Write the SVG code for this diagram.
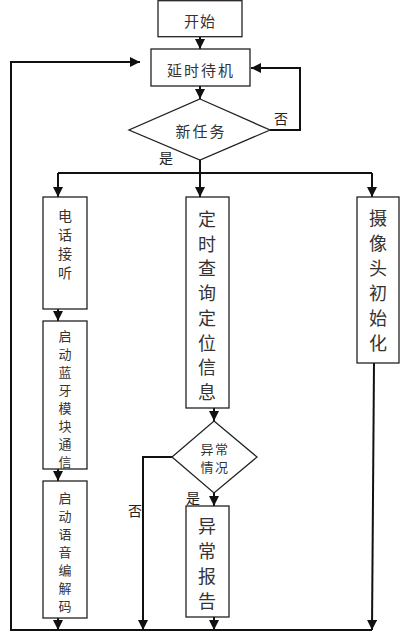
<svg xmlns="http://www.w3.org/2000/svg" width="400" height="632" viewBox="0 0 400 632">
<style>
.box{fill:#fff;stroke:#222;stroke-width:1.3}
.t{font-family:"Noto Sans CJK SC","Noto Sans",sans-serif;fill:#333;text-anchor:middle;dominant-baseline:central}
.s{font-size:14px}
.xs{font-size:13px}
.b{font-size:18px}
.c{fill:none;stroke:#111;stroke-width:2}
.lbl{font-family:"Noto Sans CJK SC","Noto Sans",sans-serif;fill:#222;font-size:14px;text-anchor:middle;dominant-baseline:central}
</style>
<defs>
<marker id="ah" markerUnits="userSpaceOnUse" markerWidth="10" markerHeight="10" viewBox="0 0 10 10" refX="10" refY="5" orient="auto">
<path d="M0,0 L10,5 L0,10 z" fill="#111"/>
</marker>
</defs>
<rect width="400" height="632" fill="#fff"/>
<g id="connectors">
<path class="c" d="M200,37 V49" marker-end="url(#ah)"/>
<path class="c" d="M200,86 V99" marker-end="url(#ah)"/>
<path class="c" d="M270,130 H300 V68 H251" marker-end="url(#ah)"/>
<path class="c" d="M200,160 V197" marker-end="url(#ah)"/>
<path class="c" d="M58,173 H372"/>
<path class="c" d="M58,173 V197" marker-end="url(#ah)"/>
<path class="c" d="M372,173 V197" marker-end="url(#ah)"/>
<path class="c" d="M58,309 V321" marker-end="url(#ah)"/>
<path class="c" d="M58,469 V481" marker-end="url(#ah)"/>
<path class="c" d="M58,618 V630" marker-end="url(#ah)"/>
<path class="c" d="M214,408 V421" marker-end="url(#ah)"/>
<path class="c" d="M214,493 V506" marker-end="url(#ah)"/>
<path class="c" d="M214,617 V630" marker-end="url(#ah)"/>
<path class="c" d="M172,457 H143 V630" marker-end="url(#ah)"/>
<path class="c" d="M374,363 L372,630" marker-end="url(#ah)"/>
<path class="c" d="M372,630 H11 V62 H140" marker-end="url(#ah)"/>
<text class="lbl" x="281" y="118">否</text>
<text class="lbl" x="166" y="157">是</text>
<text class="lbl" x="193" y="497">是</text>
<text class="lbl" x="135" y="510">否</text>
</g>
<g id="start">
<rect class="box" x="158" y="0.7" width="84" height="36"/>
<text class="t" x="200" y="20" font-size="15" letter-spacing="1">开始</text>
</g>
<g id="wait">
<rect class="box" x="151" y="49" width="99" height="37"/>
<text class="t" x="201" y="69" font-size="15" letter-spacing="2">延时待机</text>
</g>
<g id="newtask">
<polygon class="box" points="200,99 270,130 200,160 129,130"/>
<text class="t" x="201" y="130" font-size="15" letter-spacing="2">新任务</text>
</g>
<g id="phone">
<rect class="box" x="43" y="197" width="44" height="112"/>
<text class="t s"><tspan x="65" y="215">电</tspan><tspan x="65" y="234">话</tspan><tspan x="65" y="253">接</tspan><tspan x="65" y="272">听</tspan></text>
</g>
<g id="bluetooth">
<rect class="box" x="43" y="321" width="44" height="148"/>
<text class="t xs"><tspan x="65" y="335">启</tspan><tspan x="65" y="353">动</tspan><tspan x="65" y="371">蓝</tspan><tspan x="65" y="389">牙</tspan><tspan x="65" y="407">模</tspan><tspan x="65" y="425">块</tspan><tspan x="65" y="443">通</tspan><tspan x="65" y="461">信</tspan></text>
</g>
<g id="voice">
<rect class="box" x="43" y="481" width="44" height="137"/>
<text class="t xs"><tspan x="65" y="497">启</tspan><tspan x="65" y="515">动</tspan><tspan x="65" y="533">语</tspan><tspan x="65" y="551">音</tspan><tspan x="65" y="569">编</tspan><tspan x="65" y="587">解</tspan><tspan x="65" y="605">码</tspan></text>
</g>
<g id="locate">
<rect class="box" x="186" y="197" width="43" height="211"/>
<text class="t b"><tspan x="207" y="218">定</tspan><tspan x="207" y="243">时</tspan><tspan x="207" y="267">查</tspan><tspan x="207" y="292">询</tspan><tspan x="207" y="317">定</tspan><tspan x="207" y="342">位</tspan><tspan x="207" y="366">信</tspan><tspan x="207" y="391">息</tspan></text>
</g>
<g id="abnormal">
<polygon class="box" points="214,421 257,457 214,493 172,457"/>
<text class="t xs" letter-spacing="1.5"><tspan x="215" y="448">异常</tspan><tspan x="215" y="466">情况</tspan></text>
</g>
<g id="report">
<rect class="box" x="186" y="506" width="43" height="111"/>
<text class="t b"><tspan x="207" y="525">异</tspan><tspan x="207" y="550">常</tspan><tspan x="207" y="575">报</tspan><tspan x="207" y="600">告</tspan></text>
</g>
<g id="camera">
<rect class="box" x="357" y="197" width="42" height="166"/>
<text class="t b"><tspan x="378" y="217">摄</tspan><tspan x="378" y="242">像</tspan><tspan x="378" y="267">头</tspan><tspan x="378" y="292">初</tspan><tspan x="378" y="317">始</tspan><tspan x="378" y="342">化</tspan></text>
</g>
</svg>
